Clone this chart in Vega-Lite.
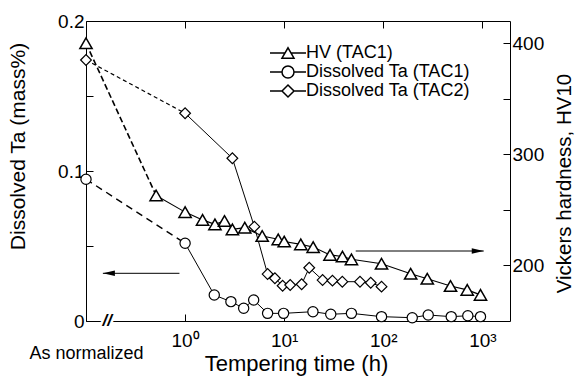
{
  "$schema": "https://vega.github.io/schema/vega-lite/v6.json",
  "width": 424,
  "height": 300,
  "autosize": {"type": "none"},
  "padding": {"left": 86, "top": 21, "right": 68, "bottom": 57},
  "background": "white",
  "config": {
    "font": "Liberation Sans",
    "view": {"stroke": "black", "strokeWidth": 1},
    "axis": {
      "grid": false, "domain": false, "tickColor": "black", "labelColor": "black", "titleColor": "black",
      "labelFont": "Liberation Sans", "titleFont": "Liberation Sans", "labelFontSize": 19, "titleFontSize": 21,
      "titleFontWeight": "normal", "tickSize": -7, "tickWidth": 1
    }
  },
  "datasets": {
    "ta": [
      {"series": "Dissolved Ta (TAC1)", "t": 0.1, "v": 0.0945},
      {"series": "Dissolved Ta (TAC1)", "t": 1.0, "v": 0.0518},
      {"series": "Dissolved Ta (TAC1)", "t": 1.97, "v": 0.0173},
      {"series": "Dissolved Ta (TAC1)", "t": 2.9, "v": 0.0129},
      {"series": "Dissolved Ta (TAC1)", "t": 3.9, "v": 0.0085},
      {"series": "Dissolved Ta (TAC1)", "t": 4.92, "v": 0.014},
      {"series": "Dissolved Ta (TAC1)", "t": 6.8, "v": 0.0051},
      {"series": "Dissolved Ta (TAC1)", "t": 9.86, "v": 0.0051},
      {"series": "Dissolved Ta (TAC1)", "t": 19.5, "v": 0.0062},
      {"series": "Dissolved Ta (TAC1)", "t": 29.5, "v": 0.0045},
      {"series": "Dissolved Ta (TAC1)", "t": 47.7, "v": 0.0051},
      {"series": "Dissolved Ta (TAC1)", "t": 96, "v": 0.0029},
      {"series": "Dissolved Ta (TAC1)", "t": 196, "v": 0.0022},
      {"series": "Dissolved Ta (TAC1)", "t": 284, "v": 0.004},
      {"series": "Dissolved Ta (TAC1)", "t": 485, "v": 0.0029},
      {"series": "Dissolved Ta (TAC1)", "t": 713, "v": 0.0035},
      {"series": "Dissolved Ta (TAC1)", "t": 957, "v": 0.0029},
      {"series": "Dissolved Ta (TAC2)", "t": 0.1, "v": 0.174},
      {"series": "Dissolved Ta (TAC2)", "t": 1.0, "v": 0.1385},
      {"series": "Dissolved Ta (TAC2)", "t": 3.0, "v": 0.1085},
      {"series": "Dissolved Ta (TAC2)", "t": 5.0, "v": 0.0629},
      {"series": "Dissolved Ta (TAC2)", "t": 6.8, "v": 0.0313},
      {"series": "Dissolved Ta (TAC2)", "t": 8.06, "v": 0.0285},
      {"series": "Dissolved Ta (TAC2)", "t": 9.64, "v": 0.0235},
      {"series": "Dissolved Ta (TAC2)", "t": 11.5, "v": 0.024},
      {"series": "Dissolved Ta (TAC2)", "t": 15, "v": 0.0245},
      {"series": "Dissolved Ta (TAC2)", "t": 17.9, "v": 0.0355},
      {"series": "Dissolved Ta (TAC2)", "t": 24.4, "v": 0.0273},
      {"series": "Dissolved Ta (TAC2)", "t": 30.7, "v": 0.0269},
      {"series": "Dissolved Ta (TAC2)", "t": 38.6, "v": 0.0262},
      {"series": "Dissolved Ta (TAC2)", "t": 58.2, "v": 0.0262},
      {"series": "Dissolved Ta (TAC2)", "t": 74.7, "v": 0.0255},
      {"series": "Dissolved Ta (TAC2)", "t": 96, "v": 0.0229}
    ],
    "hv": [
      {"series": "HV (TAC1)", "t": 0.1, "hv": 400},
      {"series": "HV (TAC1)", "t": 0.51, "hv": 263},
      {"series": "HV (TAC1)", "t": 1.0, "hv": 248},
      {"series": "HV (TAC1)", "t": 1.5, "hv": 241},
      {"series": "HV (TAC1)", "t": 2.0, "hv": 237},
      {"series": "HV (TAC1)", "t": 2.5, "hv": 240},
      {"series": "HV (TAC1)", "t": 3.0, "hv": 232.5},
      {"series": "HV (TAC1)", "t": 4.0, "hv": 234},
      {"series": "HV (TAC1)", "t": 6.0, "hv": 226.5},
      {"series": "HV (TAC1)", "t": 8.7, "hv": 223.5},
      {"series": "HV (TAC1)", "t": 10, "hv": 221.5},
      {"series": "HV (TAC1)", "t": 14.7, "hv": 219},
      {"series": "HV (TAC1)", "t": 19.6, "hv": 216.5},
      {"series": "HV (TAC1)", "t": 29, "hv": 209.5},
      {"series": "HV (TAC1)", "t": 38.7, "hv": 208},
      {"series": "HV (TAC1)", "t": 47.7, "hv": 205.5},
      {"series": "HV (TAC1)", "t": 96, "hv": 201.5},
      {"series": "HV (TAC1)", "t": 189, "hv": 192.5},
      {"series": "HV (TAC1)", "t": 278, "hv": 188},
      {"series": "HV (TAC1)", "t": 477, "hv": 181.5},
      {"series": "HV (TAC1)", "t": 703, "hv": 178},
      {"series": "HV (TAC1)", "t": 957, "hv": 173.5}
    ]
  },
  "resolve": {"scale": {"y": "independent"}, "axis": {"x": "independent"}},
  "layer": [
    {
      "encoding": {
        "x": {"field": "t", "type": "quantitative",
          "scale": {"type": "log", "domain": [0.1, 1900], "nice": false},
          "axis": {"orient": "bottom", "values": [0.1, 1, 10, 100, 1000],
            "labelExpr": "datum.value < 0.5 ? ['', 'As normalized'] : datum.value < 5 ? '10⁰' : datum.value < 50 ? '10¹' : datum.value < 500 ? '10²' : '10³'",
            "labelFlush": false, "labelOverlap": false, "labelBound": false, "labelPadding": 17, "labelLineHeight": 13,
            "labelFontSize": {"condition": {"test": "datum.value < 0.5", "value": 18}, "value": 19},
            "title": "Tempering time (h)", "titleFontSize": 22, "titleX": 210, "titleY": 49, "titleAlign": "center", "titleBaseline": "alphabetic"}},
        "y": {"field": "v", "type": "quantitative",
          "scale": {"domain": [0, 0.2], "nice": false, "zero": false},
          "axis": {"orient": "left", "values": [0, 0.05, 0.1, 0.15, 0.2],
            "labelExpr": "datum.value == 0 ? '0' : datum.value == 0.1 ? '0.1' : datum.value == 0.2 ? '0.2' : ''",
            "labelPadding": 9, "title": "Dissolved  Ta (mass%)", "titleFontSize": 21,
            "titleX": -68, "titleY": 125, "titleAngle": -90, "titleAlign": "center", "titleBaseline": "middle"}}
      },
      "layer": [
        {
          "data": {"name": "ta"},
          "transform": [{"filter": "datum.t > 0.15"}],
          "mark": {"type": "line", "color": "black", "strokeWidth": 1},
          "encoding": {"detail": {"field": "series"}}
        },
        {
          "data": {"name": "ta"},
          "transform": [
            {"window": [{"op": "row_number", "as": "rk"}], "sort": [{"field": "t"}], "groupby": ["series"]},
            {"filter": "datum.rk <= 2 && datum.series == 'Dissolved Ta (TAC1)'"}
          ],
          "mark": {"type": "line", "color": "black", "strokeWidth": 1.4, "strokeDash": [7, 5]},
          "encoding": {}
        },
        {
          "data": {"name": "ta"},
          "transform": [
            {"window": [{"op": "row_number", "as": "rk"}], "sort": [{"field": "t"}], "groupby": ["series"]},
            {"filter": "datum.rk <= 2 && datum.series == 'Dissolved Ta (TAC2)'"}
          ],
          "mark": {"type": "line", "color": "black", "strokeWidth": 1.2, "strokeDash": [4, 3]},
          "encoding": {}
        },
        {
          "data": {"values": [{"t": 0.148, "t2": 0.877, "v": 0.0318}]},
          "mark": {"type": "rule", "color": "black", "strokeWidth": 1},
          "encoding": {"x2": {"field": "t2"}}
        },
        {
          "data": {"values": [{"t": 0.148, "v": 0.0318}]},
          "mark": {"type": "point", "shape": "M0,0L2,-0.45L2,0.45Z", "size": 144, "filled": true, "color": "black", "opacity": 1}
        },
        {
          "data": {"values": [{"t": 0.164, "v": 0, "label": "//"}]},
          "mark": {"type": "text", "fontSize": 17, "fontWeight": "bold", "fontStyle": "italic", "align": "center", "baseline": "middle", "fill": "white", "stroke": "white", "strokeWidth": 5},
          "encoding": {"text": {"field": "label"}}
        },
        {
          "data": {"values": [{"t": 0.164, "v": 0, "label": "//"}]},
          "mark": {"type": "text", "fontSize": 17, "fontWeight": "bold", "fontStyle": "italic", "align": "center", "baseline": "middle", "color": "black"},
          "encoding": {"text": {"field": "label"}}
        },
        {
          "data": {"name": "ta"},
          "transform": [{"filter": "datum.series == 'Dissolved Ta (TAC1)'"}],
          "mark": {"type": "point", "shape": "circle", "filled": true, "fill": "white", "stroke": "black", "strokeWidth": 1.2, "size": 105, "opacity": 1}
        },
        {
          "data": {"name": "ta"},
          "transform": [{"filter": "datum.series == 'Dissolved Ta (TAC2)'"}],
          "mark": {"type": "point", "shape": "diamond", "filled": true, "fill": "white", "stroke": "black", "strokeWidth": 1.2, "size": 115, "opacity": 1}
        },
        {
          "data": {"name": "ta"},
          "mark": {"type": "point", "filled": true, "fill": "white", "stroke": "black", "strokeWidth": 1.2, "opacity": 0},
          "encoding": {
            "shape": {"field": "series", "type": "nominal",
              "scale": {"domain": ["HV (TAC1)", "Dissolved Ta (TAC1)", "Dissolved Ta (TAC2)"],
                "range": ["M-3,0H-0.52M0.52,0H3M-1,0.866L0,-0.866L1,0.866Z", "M-3,0H-1M1,0H3M-1,0A1,1,0,1,1,1,0A1,1,0,1,1,-1,0Z", "M-3,0H-1M1,0H3M-1,0L0,-1L1,0L0,1Z"]},
              "legend": {"orient": "none", "legendX": 193, "legendY": 23, "title": null, "labelFontSize": 18, "labelColor": "black", "labelLimit": 400,
                "symbolSize": 144, "labelOffset": 9, "symbolOffset": 0, "rowPadding": 1, "padding": 0,
                "encode": {"symbols": {"update": {"fill": {"value": "white"}, "stroke": {"value": "black"}, "strokeWidth": {"value": 1.2}, "opacity": {"value": 1}}}}}
            }
          }
        }
      ]
    },
    {
      "encoding": {
        "x": {"field": "t", "type": "quantitative",
          "scale": {"type": "log", "domain": [0.1, 1900], "nice": false},
          "axis": {"orient": "top", "values": [1, 10, 100, 1000], "labels": false, "title": null}},
        "y": {"field": "hv", "type": "quantitative",
          "scale": {"domain": [150, 420], "nice": false, "zero": false},
          "axis": {"orient": "right", "values": [200, 250, 300, 350, 400],
            "labelExpr": "datum.value % 100 == 0 ? datum.label : ''",
            "labelPadding": 9, "title": "Vickers hardness, HV10", "titleFontSize": 20.5,
            "titleX": 54, "titleY": 162, "titleAngle": -90, "titleAlign": "center", "titleBaseline": "middle"}}
      },
      "layer": [
        {
          "data": {"name": "hv"},
          "transform": [{"filter": "datum.t > 0.15"}],
          "mark": {"type": "line", "color": "black", "strokeWidth": 1.1},
          "encoding": {}
        },
        {
          "data": {"name": "hv"},
          "transform": [
            {"window": [{"op": "row_number", "as": "rk"}], "sort": [{"field": "t"}]},
            {"filter": "datum.rk <= 2"}
          ],
          "mark": {"type": "line", "color": "black", "strokeWidth": 1.6, "strokeDash": [6, 3]},
          "encoding": {}
        },
        {
          "data": {"values": [{"t": 52.7, "t2": 1032, "hv": 213}]},
          "mark": {"type": "rule", "color": "black", "strokeWidth": 1},
          "encoding": {"x2": {"field": "t2"}}
        },
        {
          "data": {"values": [{"t": 1032, "hv": 213}]},
          "mark": {"type": "point", "shape": "M0,0L-2,-0.45L-2,0.45Z", "size": 144, "filled": true, "color": "black", "opacity": 1}
        },
        {
          "data": {"name": "hv"},
          "mark": {"type": "point", "shape": "triangle-up", "filled": true, "fill": "white", "stroke": "black", "strokeWidth": 1.5, "size": 150, "opacity": 1}
        }
      ]
    }
  ]
}
